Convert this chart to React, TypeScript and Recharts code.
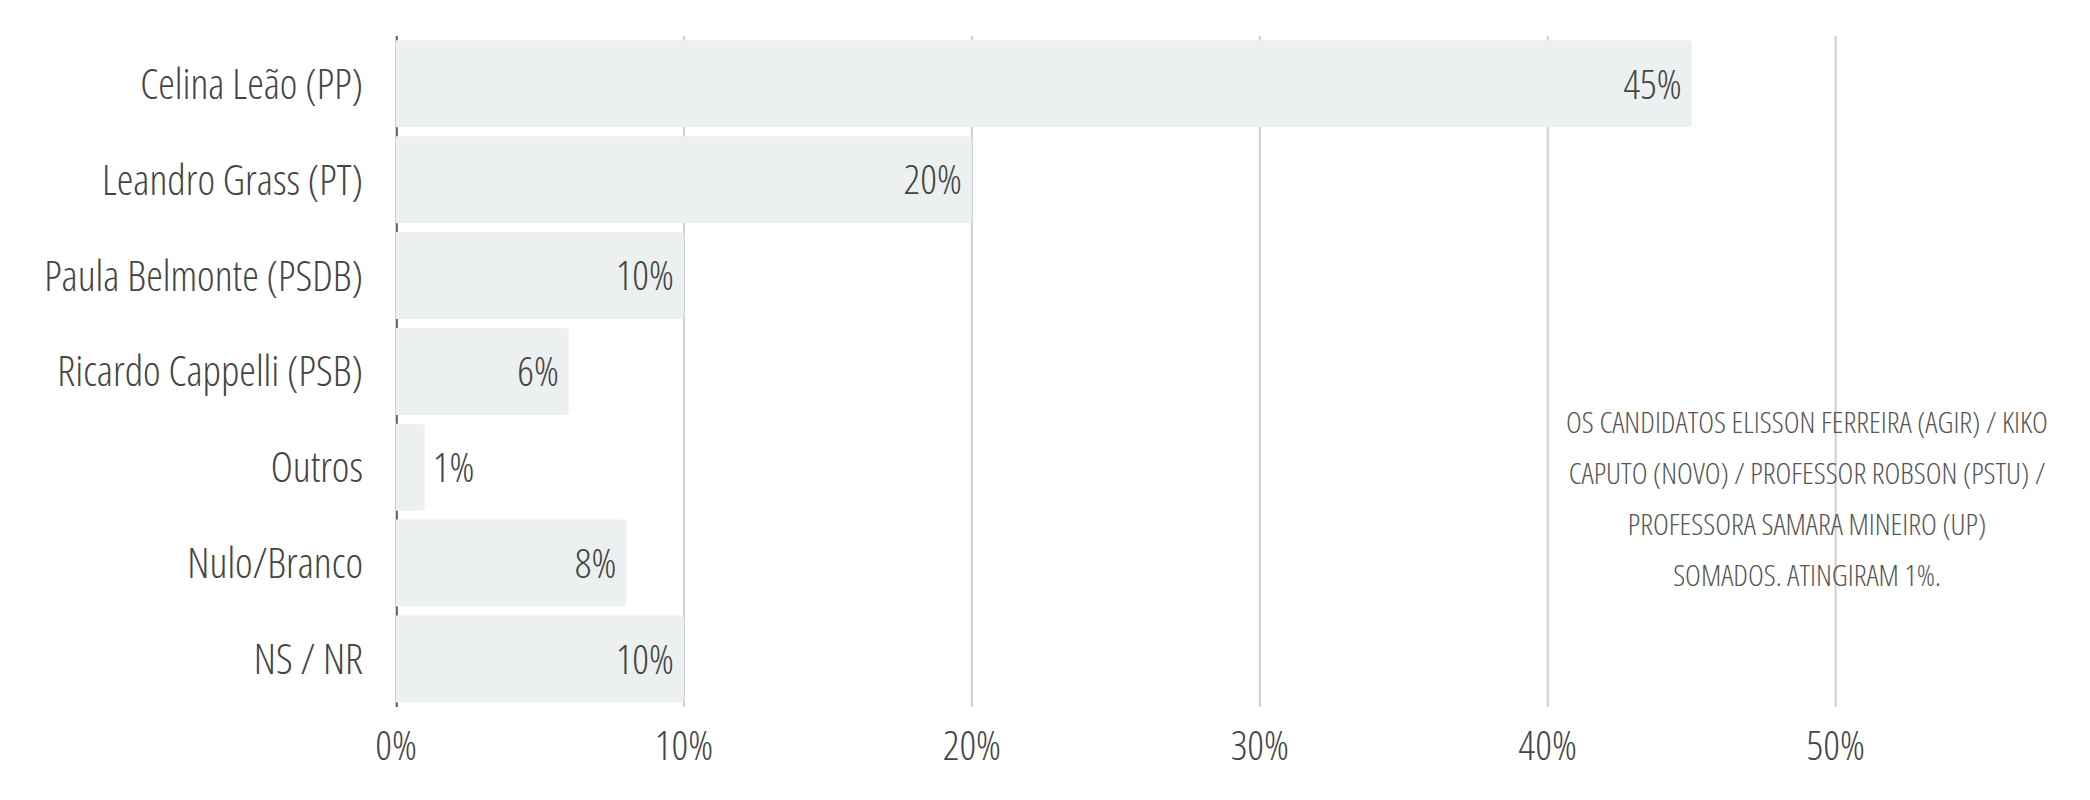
import React from 'react';
import { BarChart, Bar, XAxis, YAxis, CartesianGrid, LabelList } from 'recharts';

const candidates = [
  'Celina Leão (PP)',
  'Leandro Grass (PT)',
  'Paula Belmonte (PSDB)',
  'Ricardo Cappelli (PSB)',
  'Outros',
  'Nulo/Branco',
  'NS / NR',
];
const percents = [45, 20, 10, 6, 1, 8, 10];
const xTicks = [0, 10, 20, 30, 40, 50];
const xMax = 58;
const noteLines = [
  'OS CANDIDATOS ELISSON FERREIRA (AGIR) / KIKO',
  'CAPUTO (NOVO) / PROFESSOR ROBSON (PSTU) /',
  'PROFESSORA SAMARA MINEIRO (UP)',
  'SOMADOS. ATINGIRAM 1%.',
];

const data = candidates.map((name, i) => ({ name, value: percents[i] }));

const FONT = '"Open Sans", "DejaVu Sans Condensed", sans-serif';
const STRETCH = '75%';
const TEXT = '#444';

// value label sits inside the bar end, or just outside when the bar is too short
const ValueLabel = (props: any) => {
  const { x, y, width, height, value } = props;
  const inside = width > 70;
  const fs = 41;
  return (
    <text
      x={inside ? x + width - 10 : x + width + 8}
      y={y + height / 2 + fs * 0.36}
      textAnchor={inside ? 'end' : 'start'}
      fontSize={fs}
      fontFamily={FONT}
      fontWeight={300}
      style={{ fontStretch: STRETCH }}
      fill={TEXT}
    >
      {value}%
    </text>
  );
};

const tickPositions = ({ offset }: any) => xTicks.map((t) => offset.left + (t / xMax) * offset.width);
// dark zero line sits just under the bars, so it only shows in the gaps
const zeroLine = ({ offset }: any) => [offset.left + 1];

export default function App() {
  return (
    <div style={{ position: 'absolute', left: 0, top: 0, width: 2090, height: 800, background: '#fff' }}>
      <BarChart
        width={2090}
        height={800}
        data={data}
        layout="vertical"
        margin={{ top: 36, right: 24, bottom: 33, left: 0 }}
        barCategoryGap="4.5%"
        style={{ fontStretch: STRETCH }}
      >
        <CartesianGrid horizontal={false} stroke="#cfcfcf" strokeWidth={2} verticalCoordinatesGenerator={tickPositions} />
        <CartesianGrid horizontal={false} stroke="#444" strokeWidth={1.5} verticalCoordinatesGenerator={zeroLine} />
        <XAxis
          type="number"
          domain={[0, xMax]}
          ticks={xTicks}
          tickFormatter={(v) => `${v}%`}
          axisLine={false}
          tickLine={false}
          tickSize={0}
          tickMargin={24}
          height={60}
          tick={{ fontSize: 41, fontFamily: FONT, fontWeight: 300, fill: TEXT }}
        />
        <YAxis
          type="category"
          dataKey="name"
          width={396}
          axisLine={false}
          tickLine={false}
          tickSize={0}
          tickMargin={33}
          tick={{ fontSize: 42, fontFamily: FONT, fontWeight: 300, fill: TEXT }}
        />
        <Bar dataKey="value" fill="#ecf0f1" radius={[0, 4, 4, 0]} isAnimationActive={false}>
          <LabelList dataKey="value" content={<ValueLabel />} />
        </Bar>
      </BarChart>
      <div
        style={{
          position: 'absolute',
          left: 1507,
          top: 396,
          width: 600,
          textAlign: 'center',
          fontFamily: FONT,
          fontStretch: STRETCH,
          fontWeight: 300,
          fontSize: 30,
          lineHeight: '51px',
          color: '#555',
          pointerEvents: 'none',
        }}
      >
        {noteLines.map((l) => (
          <div key={l}>{l}</div>
        ))}
      </div>
    </div>
  );
}
